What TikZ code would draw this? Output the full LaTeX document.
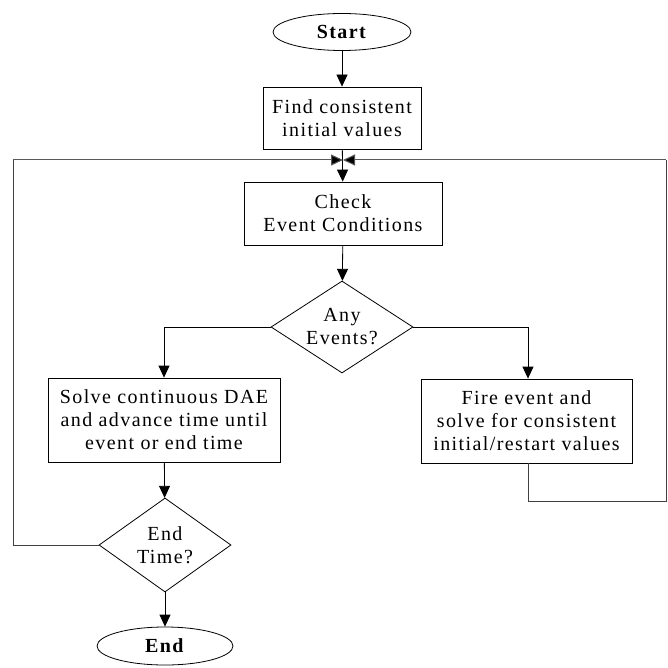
\documentclass[tikz,border=0pt]{standalone}
\usepackage{fontspec}
\setmainfont{Liberation Serif}[LetterSpace=7]
\usetikzlibrary{shapes.geometric,arrows.meta}
\begin{document}
\begin{tikzpicture}[x=1pt,y=-1pt,
  txt/.style={font=\fontsize{20}{23}\selectfont, align=center, inner sep=0pt},
  procbox/.style={txt, draw, line width=0.8pt, rectangle},
  termnode/.style={txt, draw, line width=0.8pt, ellipse},
  decide/.style={txt, draw, line width=0.8pt, diamond},
  flow/.style={line width=0.8pt, -{Triangle[length=12pt,width=11pt]}},
  loopline/.style={line width=1pt, draw=black!65, -{Triangle[length=12pt,width=11pt,fill=black]}},
  plainline/.style={line width=0.8pt, draw=black!75}
]
\useasboundingbox (0,0) rectangle (667,668);
\node[termnode, minimum width=138pt, minimum height=37pt] (start) at (342,32) {\textbf{Start}};
\node[procbox, minimum width=158pt, minimum height=62pt] (find) at (342,118) {Find consistent\\initial values};
\coordinate (junc) at (343,160);
\node[procbox, minimum width=198pt, minimum height=63pt] (check) at (343,213.5) {Check\\Event Conditions};
\node[decide, minimum width=142pt, minimum height=92pt, shape aspect=1.54] (any) at (342,327) {Any\\Events?};
\node[procbox, minimum width=232pt, minimum height=84pt] (solve) at (164,420) {Solve continuous DAE\\and advance time until\\event or end time};
\node[procbox, minimum width=211pt, minimum height=84pt] (fire) at (526.5,421) {Fire event and\\solve for consistent\\initial/restart values};
\node[decide, minimum width=132pt, minimum height=94pt, shape aspect=1.4] (endt) at (165,545) {End\\Time?};
\node[termnode, minimum width=136pt, minimum height=38pt] (end) at (165,646) {\textbf{End}};
\coordinate (rb) at (528,501);
\coordinate (rc) at (666,501);
\coordinate (rt) at (666,160);
\coordinate (lb) at (13,545);
\coordinate (lt) at (13,160);

\draw[flow] (start) -- (find);
\draw[flow] (find) -- (check);
\draw[flow] (check) -- (any);
\draw[flow] (any.west) -| (solve.north);
\draw[flow] (any.east) -| (fire.north -| rb);
\draw[flow] (solve) -- (endt);
\draw[flow] (endt) -- (end);
\draw[plainline] (fire.south -| rb) -- (rb) -- (rc) -- (rt);
\draw[loopline] (rt) -- (junc);
\draw[plainline] (endt.west) -- (lb) -- (lt);
\draw[loopline] (lt) -- (junc);
\end{tikzpicture}
\end{document}
